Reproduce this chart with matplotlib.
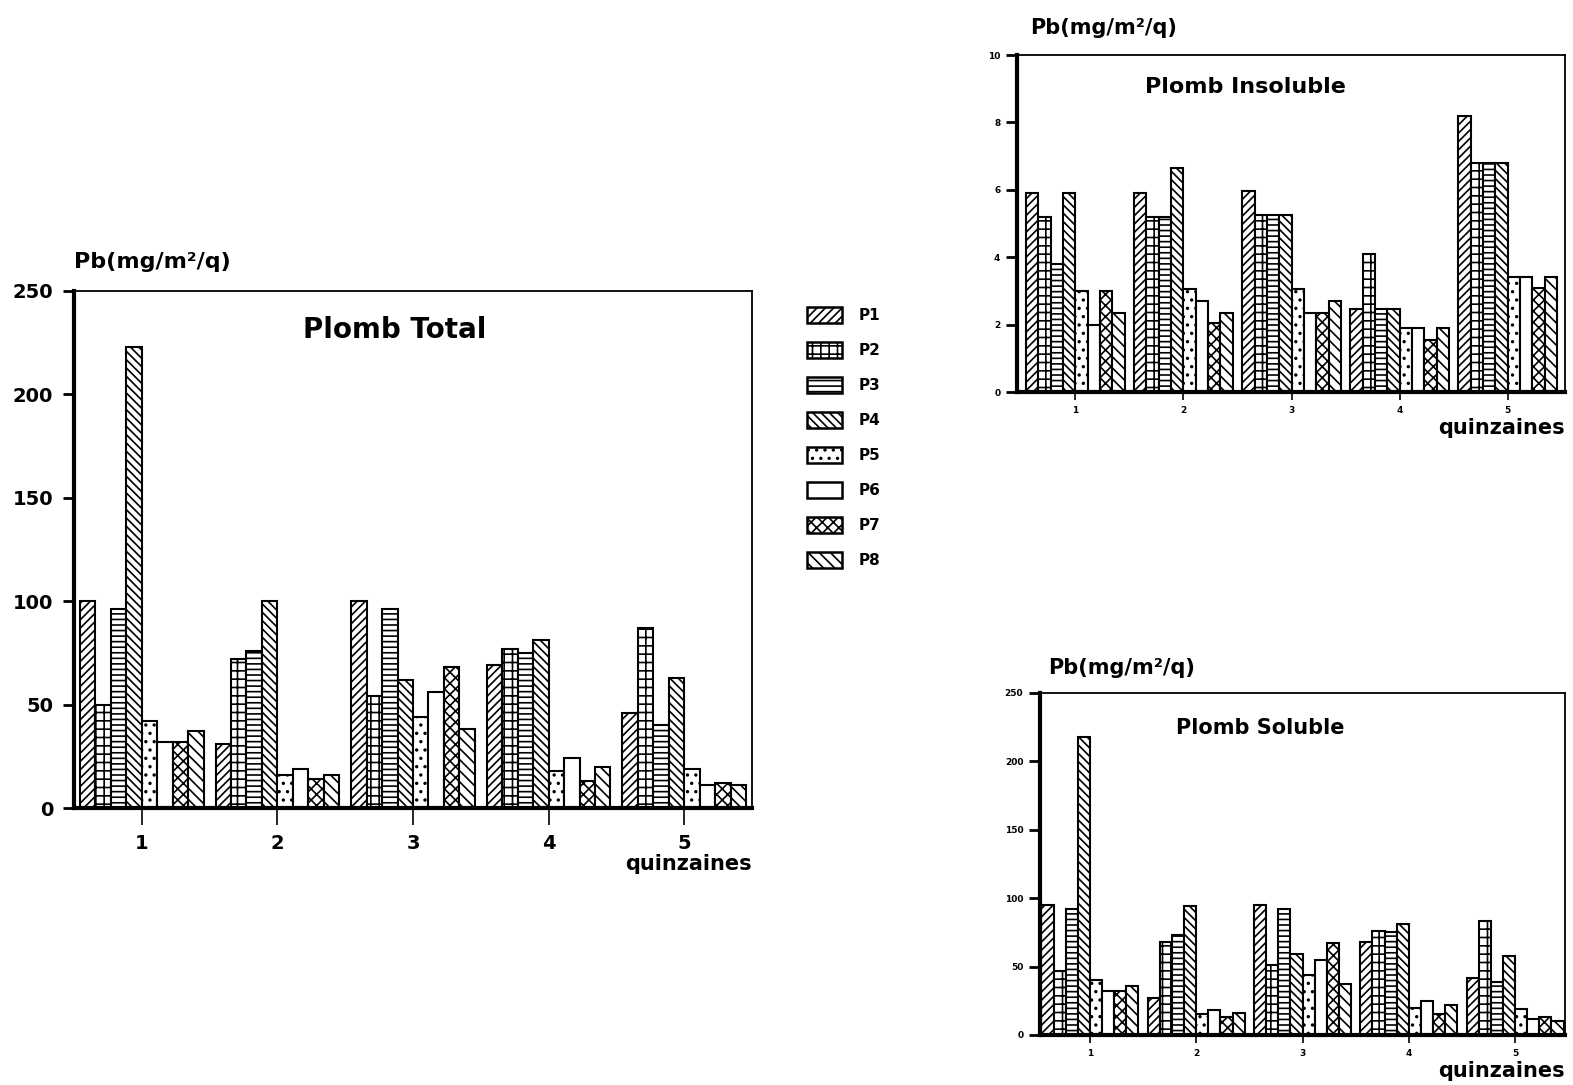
import matplotlib.pyplot as plt
import numpy as np
from matplotlib.patches import Patch

plt.rcParams['font.family'] = ['DejaVu Sans']
plt.rcParams['font.weight'] = 'bold'
plt.rcParams['hatch.linewidth'] = 1.2

# data
quinzaines = [1, 2, 3, 4, 5]
series = ['P1', 'P2', 'P3', 'P4', 'P5', 'P6', 'P7', 'P8']

total = {
    'P1': [100, 31, 100, 69, 46],
    'P2': [50, 72, 54, 77, 87],
    'P3': [96, 76, 96, 75, 40],
    'P4': [223, 100, 62, 81, 63],
    'P5': [42, 16, 44, 18, 19],
    'P6': [32, 19, 56, 24, 11],
    'P7': [32, 14, 68, 13, 12],
    'P8': [37, 16, 38, 20, 11],
}
insoluble = {
    'P1': [5.9, 5.9, 5.95, 2.45, 8.2],
    'P2': [5.2, 5.2, 5.25, 4.1, 6.8],
    'P3': [3.8, 5.2, 5.25, 2.45, 6.8],
    'P4': [5.9, 6.65, 5.25, 2.45, 6.8],
    'P5': [3.0, 3.05, 3.05, 1.9, 3.4],
    'P6': [2.0, 2.7, 2.35, 1.9, 3.4],
    'P7': [3.0, 2.05, 2.35, 1.55, 3.1],
    'P8': [2.35, 2.35, 2.7, 1.9, 3.4],
}
soluble = {
    'P1': [95, 27, 95, 68, 42],
    'P2': [47, 68, 51, 76, 83],
    'P3': [92, 73, 92, 75, 39],
    'P4': [218, 94, 59, 81, 58],
    'P5': [40, 15, 44, 20, 19],
    'P6': [32, 18, 55, 25, 12],
    'P7': [32, 13, 67, 15, 13],
    'P8': [36, 16, 37, 22, 10],
}

hatches = ['////', '++', '---', '\\\\\\\\', '..', '', 'xxx', '\\\\\\']

fig = plt.figure(figsize=(15.73, 10.85), dpi=100)


def draw(ax, data, ymax, yticks, xlim, title, title_pos, title_size,
         tick_size, label_pos, label_size, quin_y, xtick_len, pad_x, pad_y):
    x = np.array(quinzaines, dtype=float)
    w = 0.114
    for i, s in enumerate(series):
        ax.bar(x + (i - 3.5) * w, data[s], width=w, color='white',
               edgecolor='black', linewidth=1.5, hatch=hatches[i])
    ax.set_xlim(*xlim)
    ax.set_ylim(0, ymax)
    ax.set_yticks(yticks)
    ax.set_xticks(quinzaines)
    ax.tick_params(axis='y', direction='out', length=8, width=2,
                   labelsize=tick_size, pad=pad_y)
    ax.tick_params(axis='x', direction='out', length=xtick_len, width=1.2,
                   labelsize=tick_size, pad=pad_x)
    for lab in ax.get_xticklabels() + ax.get_yticklabels():
        lab.set_fontweight('bold')
    ax.spines['left'].set_linewidth(3)
    ax.spines['bottom'].set_linewidth(3)
    ax.spines['top'].set_linewidth(1.3)
    ax.spines['right'].set_linewidth(1.3)
    ax.text(title_pos[0], title_pos[1], title, transform=ax.transAxes,
            ha='center', va='center', fontsize=title_size, fontweight='bold')
    ax.text(label_pos[0], label_pos[1], 'Pb(mg/m²/q)', transform=ax.transAxes,
            ha='left', va='center', fontsize=label_size, fontweight='bold')
    ax.text(1.0, quin_y, 'quinzaines', transform=ax.transAxes,
            ha='right', va='center', fontsize=15, fontweight='bold')


# Plomb Total
ax1 = fig.add_axes([74 / 1573, 277 / 1085, 678 / 1573, 517 / 1085])
draw(ax1, total, 250, [0, 50, 100, 150, 200, 250], (0.5, 5.5),
     'Plomb Total', (0.473, 0.925), 20, 14, (0.0, 1.056), 16, -0.108,
     12, 7, 7)

# Plomb Insoluble
ax2 = fig.add_axes([1017 / 1573, 693 / 1085, 548 / 1573, 337 / 1085])
draw(ax2, insoluble, 10, [0, 2, 4, 6, 8, 10], (0.46, 5.53),
     'Plomb Insoluble', (0.416, 0.905), 16, 6.5, (0.024, 1.08), 15, -0.108,
     6, 4, 4)

# Plomb Soluble
ax3 = fig.add_axes([1040 / 1573, 50 / 1085, 525 / 1573, 342 / 1085])
draw(ax3, soluble, 250, [0, 50, 100, 150, 200, 250], (0.53, 5.47),
     'Plomb Soluble', (0.419, 0.898), 15, 6.5, (0.015, 1.073), 15, -0.104,
     6, 4, 4)

# legend
handles = [Patch(facecolor='white', edgecolor='black', linewidth=1.8,
                 hatch=hatches[i], label=s) for i, s in enumerate(series)]
fig.legend(handles=handles, loc='upper left',
           bbox_to_anchor=(793 / 1573, 1 - 293 / 1085), frameon=False,
           prop={'size': 11, 'weight': 'bold'}, handlelength=2.3,
           handleheight=1.3, labelspacing=1.2, handletextpad=1.1)

fig.savefig('out.png', dpi=100)
